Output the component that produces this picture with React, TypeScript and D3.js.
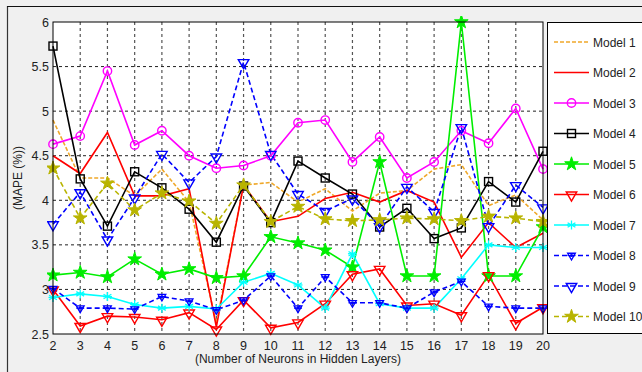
import React from "react";
import * as d3 from "d3";

const neurons = [2, 3, 4, 5, 6, 7, 8, 9, 10, 11, 12, 13, 14, 15, 16, 17, 18, 19, 20];
const model1 = [4.9, 4.25, 4.25, 4.05, 4.35, 3.98, 2.62, 4.17, 4.2, 3.98, 4.13, 3.88, 4.08, 4.11, 4.35, 4.4, 3.94, 4.06, 3.78];
const model2 = [4.5, 4.3, 4.76, 4.05, 4.05, 4.13, 2.58, 4.17, 3.76, 3.82, 4.02, 4.09, 3.98, 4.11, 3.98, 3.36, 3.75, 3.47, 3.63];
const model3 = [4.63, 4.72, 5.45, 4.62, 4.78, 4.5, 4.36, 4.39, 4.5, 4.87, 4.9, 4.43, 4.71, 4.25, 4.43, 4.78, 4.64, 5.03, 4.35];
const model4 = [5.73, 4.24, 3.71, 4.32, 4.14, 3.9, 3.53, 4.16, 3.75, 4.44, 4.25, 4.07, 3.7, 3.91, 3.57, 3.69, 4.21, 3.98, 4.55];
const model5 = [3.16, 3.19, 3.14, 3.34, 3.17, 3.23, 3.13, 3.15, 3.59, 3.52, 3.44, 3.25, 4.43, 3.15, 3.15, 6.0, 3.15, 3.15, 3.7];
const model6 = [3.0, 2.59, 2.7, 2.69, 2.66, 2.74, 2.55, 2.88, 2.57, 2.63, 2.84, 3.17, 3.23, 2.82, 2.84, 2.71, 3.16, 2.62, 2.8];
const model7 = [2.91, 2.95, 2.92, 2.83, 2.79, 2.81, 2.78, 3.08, 3.18, 3.05, 2.79, 3.4, 2.84, 2.79, 2.79, 3.12, 3.5, 3.47, 3.47];
const model8 = [3.01, 2.79, 2.79, 2.78, 2.92, 2.87, 2.77, 2.88, 3.15, 2.79, 3.14, 2.85, 2.85, 2.79, 2.97, 3.09, 2.81, 2.79, 2.79];
const model9 = [3.73, 4.09, 3.56, 4.03, 4.52, 4.2, 4.49, 5.55, 4.52, 4.07, 3.88, 4.02, 3.71, 4.15, 3.87, 4.82, 3.71, 4.17, 3.92];
const model10 = [4.36, 3.8, 4.19, 3.89, 4.08, 3.99, 3.74, 4.17, 3.76, 3.93, 3.79, 3.77, 3.78, 3.8, 3.79, 3.77, 3.82, 3.8, 3.76];

const modelNames = ["Model 1", "Model 2", "Model 3", "Model 4", "Model 5", "Model 6", "Model 7", "Model 8", "Model 9", "Model 10"];
const yTicks = [2.5, 3, 3.5, 4, 4.5, 5, 5.5, 6];
const yTickLabels = ["2.5", "3", "3.5", "4", "4.5", "5", "5.5", "6"];

type Style = { color: string; dash?: string; marker: string; width: number; markerFill?: string };
const styles: Style[] = [
  { color: "#EFA82A", dash: "4,2", marker: "none", width: 1.6 },
  { color: "#FF0000", marker: "none", width: 1.6 },
  { color: "#FF00FF", marker: "circle", width: 1.6 },
  { color: "#000000", marker: "square", width: 1.6 },
  { color: "#00EE00", marker: "star", width: 1.6, markerFill: "#00EE00" },
  { color: "#FF0000", marker: "triangle", width: 1.6 },
  { color: "#00FFFF", marker: "asterisk", width: 1.6 },
  { color: "#0000FF", dash: "5,3", marker: "smallstar", width: 1.6, markerFill: "#0000FF" },
  { color: "#0000FF", dash: "5,3", marker: "triangle", width: 1.6 },
  { color: "#B8B400", dash: "5,3", marker: "star", width: 1.6, markerFill: "#B8B400" },
];

const series = [model1, model2, model3, model4, model5, model6, model7, model8, model9, model10];

const PL = 53, PR = 543, PT = 22, PB = 334;
const FONT = "Liberation Sans, Arial, sans-serif";

function Marker({ kind, x, y, s }: { kind: string; x: number; y: number; s: Style }) {
  const c = s.color;
  if (kind === "circle") return <circle cx={x} cy={y} r={4.2} fill="none" stroke={c} strokeWidth={1.4} />;
  if (kind === "square") return <rect x={x - 4} y={y - 4} width={8} height={8} fill="none" stroke={c} strokeWidth={1.4} />;
  if (kind === "star") {
    const p = d3.symbol().type(d3.symbolStar).size(58)() as string;
    return <path d={p} transform={`translate(${x},${y})`} fill={s.markerFill} stroke={c} strokeWidth={1} />;
  }
  if (kind === "smallstar") {
    const p = d3.symbol().type(d3.symbolTriangle).size(26)() as string;
    return (
      <g>
        <path d={p} transform={`translate(${x},${y}) rotate(180)`} fill="none" stroke={c} strokeWidth={1.3} />
        <circle cx={x} cy={y} r={1.6} fill={c} />
        <line x1={x - 4} x2={x + 4} y1={y} y2={y} stroke={c} strokeWidth={1.2} />
      </g>
    );
  }
  if (kind === "triangle") {
    const p = d3.symbol().type(d3.symbolTriangle).size(48)() as string;
    return <path d={p} transform={`translate(${x},${y + 0.5}) rotate(180)`} fill="none" stroke={c} strokeWidth={1.4} />;
  }
  if (kind === "asterisk") {
    const r = 4.5;
    const lines = [0, 60, 120].map((a) => {
      const rad = (a * Math.PI) / 180;
      return (
        <line key={a} x1={x - r * Math.sin(rad)} y1={y - r * Math.cos(rad)} x2={x + r * Math.sin(rad)} y2={y + r * Math.cos(rad)} stroke={c} strokeWidth={1.3} />
      );
    });
    return <g>{lines}<line x1={x - r} y1={y} x2={x + r} y2={y} stroke={c} strokeWidth={1.3} /></g>;
  }
  return null;
}

export default function App() {
  const x = d3.scaleLinear().domain([2, 20]).range([PL, PR]);
  const y = d3.scaleLinear().domain([2.5, 6]).range([PB, PT]);
  const line = d3.line<number>().x((_, i) => x(neurons[i])).y((v) => y(v));

  return (
    <svg width={642} height={372} style={{ position: "fixed", left: 0, top: 0 }} fontFamily={FONT}>
      <rect x={0} y={0} width={642} height={372} fill="#F0F0F0" />
      <line x1={7.5} y1={6} x2={7.5} y2={372} stroke="#333" strokeWidth={1.2} />
      <line x1={7} y1={6.5} x2={642} y2={6.5} stroke="#111" strokeWidth={1.2} />
      <rect x={PL} y={PT} width={PR - PL} height={PB - PT} fill="#FFFFFF" />
      <defs>
        <clipPath id="plotclip">
          <rect x={PL - 6} y={PT - 6} width={PR - PL + 12} height={PB - PT + 12} />
        </clipPath>
      </defs>
      {neurons.slice(1, -1).map((n) => (
        <line key={"gx" + n} x1={x(n)} x2={x(n)} y1={PT} y2={PB} stroke="#555" strokeWidth={1.2} strokeDasharray="3,3" />
      ))}
      {yTicks.slice(1, -1).map((t) => (
        <line key={"gy" + t} x1={PL} x2={PR} y1={y(t)} y2={y(t)} stroke="#222" strokeWidth={1} strokeDasharray="3,3" />
      ))}
      <g clipPath="url(#plotclip)">
        {series.map((data, si) => (
          <path key={"l" + si} d={line(data) as string} fill="none" stroke={styles[si].color} strokeWidth={styles[si].width} strokeDasharray={styles[si].dash} />
        ))}
        {series.map((data, si) =>
          styles[si].marker === "none"
            ? null
            : data.map((v, i) => <Marker key={`m${si}-${i}`} kind={styles[si].marker} x={x(neurons[i])} y={y(v)} s={styles[si]} />)
        )}
      </g>
      <rect x={PL} y={PT} width={PR - PL} height={PB - PT} fill="none" stroke="#000" strokeWidth={1} />
      {neurons.map((n) => (
        <text key={"tx" + n} x={x(n)} y={PB + 16} textAnchor="middle" fontSize={12.5} fill="#222">
          {n}
        </text>
      ))}
      {yTicks.map((t, i) => (
        <text key={"ty" + t} x={PL - 4} y={y(t) + 4.5} textAnchor="end" fontSize={12.5} fill="#222">
          {yTickLabels[i]}
        </text>
      ))}
      <text x={298} y={363} textAnchor="middle" fontSize={12} fill="#222">
        (Number of Neurons in Hidden Layers)
      </text>
      <text transform={`translate(22,${(PT + PB) / 2}) rotate(-90)`} textAnchor="middle" fontSize={12} fill="#222">
        (MAPE (%))
      </text>
      <rect x={547.5} y={22.5} width={110} height={311} fill="#FFFFFF" stroke="#000" strokeWidth={1} />
      {modelNames.map((name, i) => {
        const ly = 42 + i * 30.5;
        const s = styles[i];
        return (
          <g key={name}>
            <line x1={554} x2={589} y1={ly} y2={ly} stroke={s.color} strokeWidth={s.width} strokeDasharray={s.dash} />
            {s.marker !== "none" && <Marker kind={s.marker} x={571.5} y={ly} s={s} />}
            <text x={593} y={ly + 4.5} fontSize={12} fill="#222">
              {name}
            </text>
          </g>
        );
      })}
    </svg>
  );
}
